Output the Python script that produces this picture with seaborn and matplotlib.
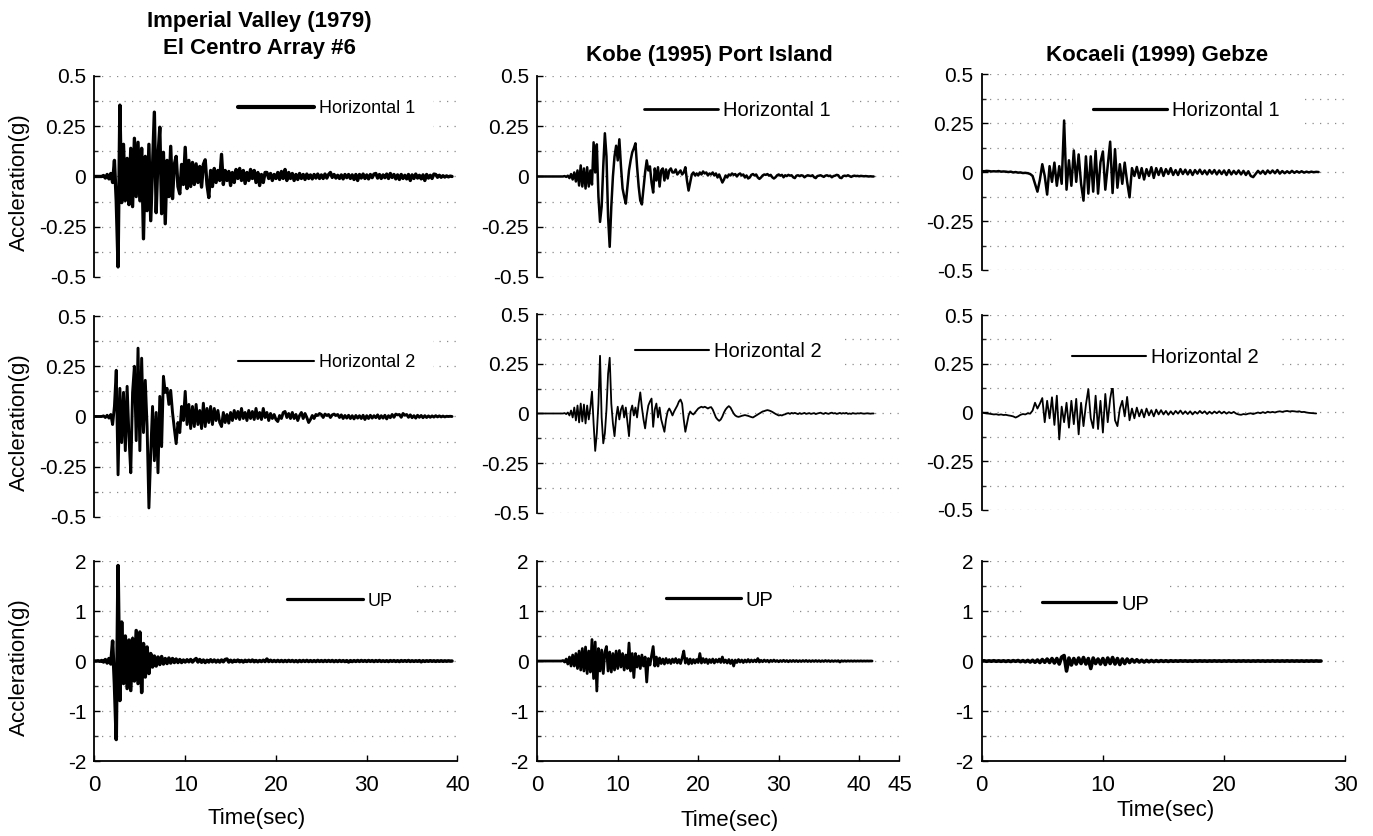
import numpy as np
import seaborn as sns
import matplotlib.pyplot as plt

# sample interval of the digitised records (s)
DT = 0.2

# ---- Imperial Valley (1979) El Centro Array #6 ----
imperial_h1 = [
    0, 0, 0, 0, 0,
    0.005, -0.008, 0.01, -0.012, 0.015,
    -0.03, 0.08, -0.12, -0.45, 0.355,
    -0.13, 0.16, -0.12, 0.09, -0.14,
    0.14, -0.15, 0.19, -0.1, 0.17,
    -0.12, 0.14, -0.31, 0.1, -0.17,
    0.16, -0.22, 0.05, 0.32, -0.18,
    0.1, 0.245, -0.185, 0.12, -0.235,
    0.08, -0.1, 0.15, -0.11, 0.06,
    0.1, -0.05, -0.086, 0.06, -0.04,
    0.145, -0.06, 0.08, -0.05, 0.07,
    -0.04, 0.063, -0.03, 0.05, -0.053,
    0.06, 0.083, -0.04, -0.105, 0.03,
    -0.05, 0.04, -0.03, 0.03, -0.02,
    0.11, -0.04, 0.03, -0.02, 0.025,
    -0.045, 0.02, -0.03, 0.035, -0.01,
    0.04, -0.02, 0.03, -0.035, 0.02,
    -0.02, 0.035, -0.01, 0.03, -0.03,
    0.02, -0.045, 0.01, -0.03, 0.02,
    0.02, -0.01, 0.015, -0.02, 0.01,
    -0.01, 0.02, -0.015, 0.025, -0.01,
    0.035, -0.02, 0.02, -0.01, 0.015,
    -0.02, 0.01, -0.015, 0.015, -0.01,
    0.01, -0.015, 0.012, -0.01, 0.008,
    -0.012, 0.01, -0.008, 0.012, -0.01,
    0.008, -0.01, 0.012, -0.008, 0.01,
    0.02, -0.005, 0.01, -0.008, 0.006,
    -0.01, 0.008, -0.012, 0.01, -0.006,
    0.01, -0.01, 0.008, -0.015, 0.01,
    -0.02, 0.01, -0.008, 0.012, -0.01,
    0.008, -0.012, 0.01, -0.006, 0.012,
    0.015, -0.008, 0.01, -0.01, 0.008,
    -0.006, 0.012, -0.01, 0.015, -0.005,
    0.01, -0.012, 0.008, -0.015, 0.01,
    -0.01, 0.006, -0.012, 0.01, -0.02,
    0.008, -0.01, 0.012, -0.008, 0.006,
    -0.012, 0.008, -0.02, 0.01, -0.008,
    0.006, -0.01, 0.012, 0.01, -0.004,
    0.006, -0.004, 0.004, -0.003, 0.003,
    -0.002, 0.002, 0.0,
]
imperial_h2 = [
    0, 0, 0, 0, 0,
    0.003, -0.005, 0.006, -0.008, 0.01,
    -0.04, 0.05, 0.23, -0.29, 0.14,
    -0.13, 0.12, -0.17, 0.15, -0.1,
    -0.28, 0.12, 0.25, -0.12, 0.34,
    -0.17, 0.29, -0.08, 0.18, -0.05,
    -0.455, -0.18, 0.05, -0.22, 0.02,
    -0.28, 0.1, -0.15, 0.2, 0.12,
    0.14, 0.06, 0.13, 0.02, -0.06,
    -0.135, -0.03, -0.08, 0.05, -0.02,
    0.125, -0.04, 0.06, -0.06, 0.05,
    -0.05, 0.06, -0.04, 0.03, -0.06,
    0.066, -0.05, 0.04, -0.03, 0.05,
    -0.04, 0.04, -0.02, 0.03, -0.03,
    -0.05, 0.02, -0.03, 0.01, -0.033,
    0.02, -0.02, 0.03, -0.01, 0.025,
    -0.015, 0.04, -0.01, 0.02, -0.02,
    0.03, -0.01, 0.025, -0.015, 0.04,
    -0.01, 0.02, -0.015, 0.04, -0.005,
    0.02, -0.02, 0.015, -0.01, 0.01,
    -0.015, -0.025, 0.005, -0.01, 0.02,
    0.025, -0.005, 0.015, -0.01, 0.02,
    -0.01, 0.01, -0.02, 0.005, 0.02,
    -0.01, 0.015, -0.005, -0.03, -0.015,
    0.005, -0.01, 0.01, 0.005, 0.015,
    0.01, -0.005, 0.012, 0.005, 0.01,
    -0.005, 0.008, 0.012, 0.005, 0.01,
    -0.005, 0.008, -0.01, 0.005, -0.008,
    0.006, -0.01, 0.004, -0.012, 0.005,
    -0.008, 0.004, -0.01, 0.006, -0.015,
    0.004, -0.01, 0.006, -0.008, 0.004,
    -0.006, 0.008, -0.01, 0.004, -0.008,
    0.006, -0.012, 0.004, -0.006, 0.01,
    -0.004, 0.012, 0.008, 0.01, -0.004,
    0.015, 0.006, 0.01, -0.004, 0.008,
    -0.006, 0.004, -0.008, 0.006, -0.004,
    0.005, -0.006, 0.004, -0.005, 0.003,
    -0.004, 0.003, -0.003, 0.004, -0.002,
    0.003, -0.002, 0.002, -0.002, 0.001,
    0.0, 0.001, 0.0,
]
imperial_up = [
    0, 0, 0.005, -0.005, 0.01,
    -0.02, 0.03, -0.04, 0.05, -0.06,
    0.4, -0.45, -1.57, 1.91, -0.79,
    0.78, -0.45, 0.5, -0.55, 0.42,
    -0.59, 0.45, -0.4, 0.61, -0.45,
    0.58, -0.63, 0.35, -0.32, 0.28,
    -0.25, 0.15, -0.12, 0.1, -0.1,
    0.08, -0.07, 0.09, -0.06, 0.05,
    -0.05, 0.06, -0.04, 0.05, -0.03,
    0.04, -0.03, 0.03, -0.03, 0.02,
    -0.02, 0.025, -0.015, 0.03, -0.02,
    0.02, 0.05, -0.02, 0.03, -0.025,
    0.02, -0.03, 0.015, -0.02, 0.025,
    -0.015, 0.02, -0.02, 0.015, -0.02,
    0.02, -0.015, 0.03, 0.04, -0.02,
    0.015, -0.02, 0.015, -0.01, 0.02,
    -0.015, 0.01, -0.02, 0.015, -0.01,
    0.015, -0.01, 0.02, -0.015, 0.01,
    -0.015, 0.01, -0.01, 0.015, -0.01,
    0.04, -0.01, 0.015, -0.01, 0.01,
    -0.01, 0.012, -0.01, 0.01, -0.012,
    0.01, -0.01, 0.012, -0.008, 0.01,
    -0.012, 0.008, -0.015, 0.01, -0.01,
    0.01, -0.008, 0.012, -0.01, 0.008,
    -0.01, 0.008, -0.01, 0.012, -0.008,
    0.008, -0.01, 0.01, -0.008, 0.01,
    -0.008, 0.01, -0.012, 0.008, -0.01,
    0.01, -0.008, 0.008, -0.01, 0.008,
    -0.02, 0.008, -0.01, 0.008, -0.008,
    0.01, -0.008, 0.01, -0.006, 0.008,
    -0.008, 0.01, -0.006, 0.008, -0.01,
    0.008, -0.006, 0.01, -0.008, 0.006,
    -0.008, 0.006, -0.01, 0.008, -0.006,
    0.008, -0.008, 0.006, -0.01, 0.008,
    -0.006, 0.008, -0.006, 0.01, -0.008,
    0.006, -0.008, 0.006, -0.006, 0.008,
    -0.015, 0.006, -0.008, 0.006, -0.006,
    0.008, -0.006, 0.006, -0.008, 0.006,
    -0.006, 0.006, -0.006, 0.004, -0.004,
    0.004, -0.002, 0.0,
]

# ---- Kobe (1995) Port Island ----
kobe_h1 = [
    0, 0, 0, 0, 0,
    0, 0, 0, 0, 0,
    0, 0, 0, 0, 0,
    0, 0, 0.002, -0.002, 0.004,
    -0.008, 0.012, -0.015, 0.02, -0.025,
    0.03, -0.045, 0.055, -0.05, 0.04,
    -0.06, 0.046, -0.05, 0.03, -0.04,
    0.17, 0.02, 0.16, -0.1, -0.226,
    -0.15, 0.05, 0.215, 0.1, -0.2,
    -0.35, -0.15, 0.0, 0.1, 0.153,
    0.08, 0.185, 0.05, -0.06, -0.1,
    -0.135, -0.05, 0.03, 0.08, 0.12,
    0.14, 0.165, 0.05, -0.05, -0.12,
    -0.139, -0.06, 0.02, 0.08, 0.03,
    0.05, -0.03, -0.08, 0.04, -0.02,
    0.046, -0.05, 0.03, 0.04, -0.02,
    0.035, -0.01, 0.03, 0.04, 0.02,
    0.02, 0.035, 0.01, 0.02, 0.03,
    0.01, 0.02, 0.046, -0.02, -0.07,
    -0.03, 0.01, 0.02, 0.005, 0.015,
    0.005, 0.02, 0.01, 0.025, 0.015,
    0.02, 0.005, 0.015, 0.01, 0.02,
    0.005, 0.015, -0.005, 0.01, -0.01,
    -0.03, -0.015, 0.005, -0.005, 0.01,
    0.005, 0.015, 0.008, 0.012, 0.0,
    0.01, 0.015, 0.005, 0.01, -0.005,
    0.005, -0.01, -0.005, 0.008, 0.012,
    0.005, 0.01, -0.005, -0.012, -0.005,
    0.005, 0.01, 0.008, 0.012, 0.004,
    0.008, -0.004, -0.01, -0.004, 0.006,
    0.01, 0.004, 0.008, -0.004, 0.006,
    0.002, 0.008, 0.004, 0.006, -0.004,
    -0.008, 0.004, 0.006, 0.002, 0.006,
    0.004, -0.004, 0.002, 0.006, 0.004,
    0.002, 0.006, -0.004, -0.008, 0.002,
    0.004, 0.006, 0.002, -0.002, 0.004,
    0.006, 0.002, 0.004, -0.004, 0.002,
    0.004, 0.008, 0.006, -0.006, -0.008,
    0.002, 0.004, 0.002, 0.006, 0.002,
    -0.002, 0.002, 0.004, 0.002, 0.003,
    0.001, 0.003, 0.002, 0.001, 0.002,
    0.001, 0.0, 0.001, 0.0, 0.0,
]
kobe_h2 = [
    0, 0, 0, 0, 0,
    0, 0, 0, 0, 0,
    0, 0, 0, 0, 0,
    0, 0, 0.002, -0.003, 0.005,
    -0.01, 0.015, -0.02, 0.03, -0.035,
    0.04, -0.045, 0.05, -0.04, 0.045,
    -0.05, 0.04, -0.03, 0.03, 0.11,
    -0.05, -0.188, -0.1, 0.05, 0.29,
    -0.02, -0.15, -0.1, 0.02, 0.2,
    0.28, 0.05, -0.05, -0.114, -0.02,
    0.034, -0.03, 0.02, 0.04, -0.02,
    0.03, -0.04, -0.114, 0.01, 0.04,
    -0.01, 0.03, -0.02, 0.05, 0.106,
    0.03, -0.03, -0.075, -0.01, 0.04,
    0.06, 0.075, -0.067, 0.02, 0.05,
    -0.02, 0.03, -0.03, -0.06, -0.092,
    -0.03, 0.01, 0.025, 0.01, -0.01,
    0.01, 0.025, 0.04, 0.06, 0.07,
    0.05, -0.03, -0.092, -0.05, -0.01,
    0.01, 0.0, -0.005, 0.005, 0.015,
    0.025, 0.03, 0.034, 0.03, 0.034,
    0.03, 0.025, 0.03, 0.032, 0.02,
    0.0, -0.02, -0.03, -0.037, -0.03,
    -0.015, 0.005, 0.02, 0.03, 0.037,
    0.03, 0.015, 0.0, -0.01, -0.015,
    -0.017, -0.015, -0.012, -0.01, -0.008,
    -0.01, -0.012, -0.015, -0.018, -0.02,
    -0.015, -0.01, -0.005, 0.0, 0.005,
    0.01, 0.012, 0.015, 0.017, 0.015,
    0.012, 0.008, 0.003, -0.002, -0.006,
    -0.01, -0.008, -0.01, -0.006, -0.004,
    0.0, 0.002, -0.002, 0.003, 0.0,
    0.003, 0.0, -0.003, 0.002, -0.002,
    0.0, 0.003, -0.002, 0.0, 0.002,
    -0.002, 0.0, 0.002, -0.003, 0.0,
    0.002, 0.004, 0.0, -0.002, 0.003,
    0.0, -0.002, 0.002, 0.004, 0.0,
    0.002, -0.002, 0.0, 0.003, -0.001,
    0.002, 0.0, 0.003, -0.002, 0.0,
    -0.002, 0.002, 0.0, -0.001, 0.001,
    0.0, 0.002, 0.0, -0.001, 0.0,
    0.001, 0.0, -0.001, 0.0, 0.0,
]
kobe_up = [
    0, 0, 0, 0, 0,
    0, 0, 0, 0, 0,
    0, 0, 0, 0, 0,
    0.0, 0.01, -0.02, 0.04, -0.06,
    0.08, -0.1, 0.12, -0.1, 0.15,
    -0.15, 0.2, -0.18, 0.25, -0.2,
    0.28, -0.25, 0.2, -0.22, 0.43,
    -0.35, 0.38, -0.6, 0.25, -0.2,
    0.22, -0.25, 0.18, 0.29, -0.2,
    0.18, -0.22, 0.15, -0.18, 0.2,
    -0.15, 0.21, -0.12, 0.15, -0.18,
    0.12, -0.15, 0.36, -0.2, 0.15,
    -0.33, 0.15, -0.12, 0.1, -0.15,
    0.12, -0.1, 0.08, -0.42, 0.05,
    -0.08, 0.1, 0.29, -0.1, 0.08,
    -0.1, 0.06, -0.05, 0.04, -0.06,
    0.05, -0.04, 0.03, -0.05, 0.04,
    -0.03, 0.05, -0.04, 0.03, -0.05,
    0.06, 0.2, -0.04, 0.05, -0.06,
    0.04, -0.05, 0.03, -0.04, 0.03,
    -0.03, 0.15, -0.04, 0.05, -0.03,
    0.04, -0.05, 0.03, -0.03, 0.04,
    -0.04, 0.03, -0.02, 0.04, -0.03,
    0.08, -0.03, 0.02, -0.04, 0.03,
    -0.05, 0.02, -0.1, 0.02, -0.03,
    0.03, -0.02, 0.02, -0.03, 0.02,
    -0.02, 0.03, -0.02, 0.02, -0.015,
    0.02, -0.015, 0.05, -0.02, 0.015,
    -0.015, 0.02, -0.01, 0.015, -0.02,
    0.015, -0.01, 0.02, -0.01, 0.01,
    -0.015, 0.01, -0.01, 0.015, -0.01,
    0.01, -0.015, 0.01, -0.01, 0.012,
    -0.01, 0.01, -0.012, 0.008, -0.01,
    0.01, -0.008, 0.012, -0.01, 0.008,
    -0.01, 0.008, -0.008, 0.01, -0.008,
    0.008, -0.01, 0.006, -0.008, 0.01,
    -0.006, 0.008, -0.01, 0.006, -0.008,
    0.006, -0.006, 0.008, -0.02, 0.006,
    -0.006, 0.005, -0.006, 0.005, -0.004,
    0.004, -0.005, 0.004, -0.004, 0.003,
    -0.003, 0.004, -0.003, 0.002, -0.002,
    0.002, -0.001, 0.001, 0.0,
]

# ---- Kocaeli (1999) Gebze ----
kocaeli_h1 = [
    0.005, 0.004, 0.006, 0.005, 0.003,
    0.004, 0.003, 0.005, 0.002, 0.003,
    0.002, 0.0, 0.002, -0.002, 0.0,
    -0.003, -0.002, -0.005, -0.004, -0.006,
    -0.01, -0.02, -0.06, -0.1, -0.04,
    0.04, -0.02, -0.115, 0.03, -0.05,
    0.048, -0.07, 0.03, -0.06, 0.263,
    -0.09, 0.06, -0.07, 0.11, -0.05,
    0.09, -0.06, -0.146, 0.08, -0.11,
    0.08, -0.1, 0.108, -0.11, 0.05,
    0.105, -0.09, 0.03, 0.155, -0.107,
    0.117, -0.08, 0.04, -0.06, 0.048,
    -0.05, -0.129, 0.02, -0.02, 0.026,
    -0.03, 0.02, -0.038, 0.015, -0.02,
    0.025, -0.03, 0.02, -0.015, 0.02,
    -0.02, 0.015, -0.01, 0.02, -0.015,
    0.01, -0.015, 0.015, -0.01, 0.012,
    -0.012, 0.01, -0.015, 0.01, -0.008,
    0.012, -0.01, 0.008, -0.012, 0.01,
    -0.008, 0.01, -0.012, 0.008, -0.01,
    0.008, -0.015, 0.01, -0.012, 0.006,
    -0.01, 0.008, -0.012, 0.006, -0.015,
    0.004, -0.02, -0.026, -0.01, 0.006,
    -0.008, 0.006, -0.01, 0.008, -0.006,
    0.008, -0.006, 0.01, -0.008, 0.005,
    -0.006, 0.004, -0.005, 0.006, -0.004,
    0.004, -0.003, 0.004, -0.003, 0.002,
    -0.002, 0.002, -0.001, 0.001, 0.0,
]
kocaeli_h2 = [
    0.0, -0.003, -0.005, -0.006, -0.008,
    -0.01, -0.009, -0.012, -0.01, -0.013,
    -0.012, -0.015, -0.017, -0.02, -0.026,
    -0.02, -0.012, -0.008, -0.01, -0.004,
    -0.006, 0.01, 0.05, 0.02, 0.045,
    0.074, -0.05, 0.06, -0.03, 0.078,
    -0.064, 0.086, -0.138, 0.03, -0.05,
    0.05, -0.078, 0.06, -0.06, 0.07,
    -0.112, 0.05, -0.07, 0.04, 0.12,
    -0.03, -0.08, 0.086, -0.085, 0.06,
    -0.103, 0.095, -0.05, 0.07, 0.141,
    -0.04, -0.07, 0.02, 0.06, -0.02,
    0.08, -0.04, 0.02, -0.03, 0.025,
    -0.02, 0.015, -0.025, 0.02, -0.015,
    0.012, -0.02, 0.015, -0.01, 0.012,
    -0.01, 0.008, -0.012, 0.006, -0.01,
    0.008, -0.006, 0.01, -0.008, 0.006,
    -0.008, 0.006, -0.01, 0.004, -0.006,
    0.008, -0.004, 0.006, -0.008, 0.004,
    -0.006, 0.005, -0.004, 0.006, -0.005,
    0.004, -0.006, 0.002, -0.004, 0.003,
    -0.006, -0.01, -0.012, -0.008, -0.01,
    -0.006, -0.004, -0.008, -0.004, 0.0,
    -0.004, 0.002, -0.003, 0.004, 0.0,
    0.003, 0.0, 0.004, 0.006, 0.003,
    0.006, 0.008, 0.005, 0.007, 0.006,
    0.004, 0.006, 0.002, 0.003, 0.0,
    -0.002, -0.003, -0.004, -0.005,
]
kocaeli_up = [
    0, 0.005, -0.005, 0.004, -0.004,
    0.006, -0.005, 0.004, -0.006, 0.005,
    -0.008, 0.006, -0.01, 0.008, -0.006,
    0.01, -0.012, 0.008, -0.015, 0.012,
    -0.02, 0.015, -0.025, 0.02, -0.03,
    0.03, -0.025, 0.04, -0.03, 0.05,
    -0.04, 0.05, -0.06, 0.08, 0.11,
    -0.2, 0.06, -0.08, 0.05, -0.06,
    0.06, -0.05, 0.07, -0.06, 0.05,
    -0.15, 0.06, -0.05, 0.04, -0.06,
    0.05, -0.07, 0.06, -0.05, 0.07,
    -0.06, 0.05, -0.07, 0.04, -0.05,
    0.04, -0.03, 0.03, -0.02, 0.025,
    -0.02, 0.015, -0.02, 0.012, -0.015,
    0.01, -0.012, 0.008, -0.01, 0.008,
    -0.008, 0.006, -0.008, 0.006, -0.005,
    0.004, -0.004, 0.005, -0.003, 0.004,
    -0.004, 0.003, -0.005, 0.004, -0.003,
    0.004, -0.003, 0.003, -0.004, 0.003,
    -0.003, 0.004, -0.003, 0.003, -0.004,
    0.003, -0.003, 0.004, -0.003, 0.003,
    -0.004, 0.003, -0.003, 0.004, -0.003,
    0.003, -0.004, 0.003, -0.003, 0.004,
    -0.003, 0.003, -0.004, 0.003, -0.003,
    0.004, -0.003, 0.003, -0.003, 0.003,
    -0.003, 0.004, -0.003, 0.003, -0.003,
    0.003, -0.003, 0.003, -0.004, 0.003,
    -0.003, 0.003, -0.003, 0.003, -0.002,
    0.0,
]

titles = ["Imperial Valley (1979)\nEl Centro Array #6",
          "Kobe (1995) Port Island",
          "Kocaeli (1999) Gebze"]
row_names = ["Horizontal 1", "Horizontal 2", "UP"]
records = [[imperial_h1, kobe_h1, kocaeli_h1],
           [imperial_h2, kobe_h2, kocaeli_h2],
           [imperial_up, kobe_up, kocaeli_up]]
x_max = [40, 45, 30]

sns.set_style("white")
plt.rcParams["font.family"] = ["Liberation Sans", "DejaVu Sans"]
plt.rcParams["text.color"] = "black"
plt.rcParams["axes.labelcolor"] = "black"

fig = plt.figure(figsize=(13.73, 8.36), dpi=100)

# axes rectangles (left, bottom, width, height), row by row
rects = [
    [(0.0688, 0.6687, 0.2644, 0.2404), (0.3913, 0.6687, 0.2638, 0.2404), (0.7150, 0.6770, 0.2648, 0.2344)],
    [(0.0688, 0.3816, 0.2644, 0.2404), (0.3913, 0.3864, 0.2638, 0.2380), (0.7150, 0.3900, 0.2648, 0.2332)],
    [(0.0688, 0.0897, 0.2644, 0.2392), (0.3913, 0.0897, 0.2638, 0.2392), (0.7150, 0.0897, 0.2648, 0.2392)],
]
# trace widths and legend settings per panel
trace_lw = [[2.4, 1.8, 1.8], [2.1, 1.3, 1.3], [2.5, 2.0, 2.6]]
leg_lw = [[3.0, 2.0, 2.3], [1.5, 1.5, 1.5], [2.3, 2.3, 2.3]]
leg_pos = [[(0.347, 0.836), (0.238, 0.826), (0.25, 0.813)],
           [(0.347, 0.768), (0.213, 0.81), (0.192, 0.78)],
           [(0.482, 0.80), (0.30, 0.805), (0.11, 0.785)]]
xlabel_pos = [(0.448, -0.235), (0.532, -0.245), (0.507, -0.195)]

for r in range(3):
    for c in range(3):
        ax = fig.add_axes(rects[r][c])
        vals = records[r][c]
        t = np.arange(len(vals)) * DT
        sns.lineplot(x=t, y=vals, ax=ax, color="black", linewidth=trace_lw[r][c],
                     estimator=None, sort=False, label=row_names[r])
        ax.set_xlim(0, x_max[c])
        if r < 2:
            ax.set_ylim(-0.5, 0.5)
            ax.set_yticks([-0.5, -0.25, 0, 0.25, 0.5])
            ax.set_yticklabels(["-0.5", "-0.25", "0", "0.25", "0.5"])
            ax.set_yticks([-0.375, -0.125, 0.125, 0.375], minor=True)
        else:
            ax.set_ylim(-2, 2)
            ax.set_yticks([-2, -1, 0, 1, 2])
            ax.set_yticklabels(["-2", "-1", "0", "1", "2"])
            ax.set_yticks([-1.5, -0.5, 0.5, 1.5], minor=True)
        ax.yaxis.grid(True, which="both", linestyle=(0, (1, 5)), color="#8a8a8a", linewidth=0.9)
        ax.set_axisbelow(True)
        for s in ["top", "right"]:
            ax.spines[s].set_visible(False)
        ax.spines["left"].set_color("black")
        ax.spines["left"].set_linewidth(1.3)
        ax.tick_params(axis="y", which="major", direction="in", length=4, width=1,
                       left=True, labelsize=15, pad=6, colors="black")
        ax.tick_params(axis="y", which="minor", direction="in", length=3, width=1, left=True)
        if r < 2:
            ax.spines["bottom"].set_visible(False)
            ax.tick_params(axis="x", bottom=False, labelbottom=False)
        else:
            ax.spines["bottom"].set_color("black")
            ax.spines["bottom"].set_linewidth(1.3)
            ax.set_xticks(list(range(0, x_max[c] + 1, 10)) + ([45] if c == 1 else []))
            ax.tick_params(axis="x", direction="in", length=4, width=1, bottom=True,
                           labelsize=16, pad=10, colors="black")
            ax.set_xlabel("Time(sec)", fontsize=16, color="black")
            ax.xaxis.set_label_coords(*xlabel_pos[c])
        if c == 0:
            ax.set_ylabel("Accleration(g)", fontsize=16, color="black")
            ax.yaxis.set_label_coords(-0.178, 0.47)
        else:
            ax.set_ylabel("")

        fs = 13 if c == 0 else 14.5
        leg = ax.legend(loc="center left", bbox_to_anchor=leg_pos[r][c], frameon=True,
                        facecolor="white", edgecolor="none", framealpha=1, fancybox=False,
                        fontsize=fs, handlelength=4.2 if c == 0 else 3.7,
                        handletextpad=0.25, borderpad=1.0, borderaxespad=0)
        for txt in leg.get_texts():
            txt.set_color("black")
        for ln in leg.get_lines():
            ln.set_linewidth(leg_lw[r][c])

fig.text(0.1886, 0.958, titles[0], ha="center", va="center", fontsize=16,
         fontweight="bold", linespacing=1.4, color="black")
fig.text(0.5164, 0.934, titles[1], ha="center", va="center", fontsize=16,
         fontweight="bold", color="black")
fig.text(0.8427, 0.934, titles[2], ha="center", va="center", fontsize=16,
         fontweight="bold", color="black")

fig.savefig("out.png", dpi=100, facecolor="white")
